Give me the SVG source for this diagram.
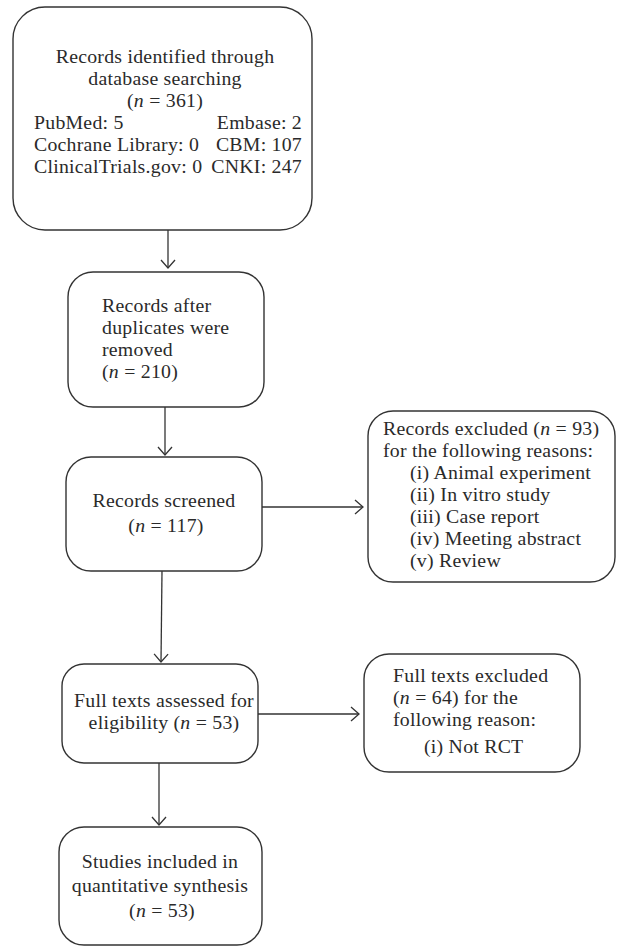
<svg xmlns="http://www.w3.org/2000/svg" width="617" height="947" viewBox="0 0 617 947">
<style>
.box{fill:#fff;stroke:#333;stroke-width:1.4}
.t{font-family:"Liberation Serif","Times New Roman",serif;font-size:19.8px;letter-spacing:0.25px;fill:#2a2a2a}
.c{text-anchor:middle}
.e{text-anchor:end}
.i{font-style:italic}
.con{stroke:#333;stroke-width:1.3;fill:none;marker-end:url(#arr)}
</style>
<defs>
<marker id="arr" markerUnits="userSpaceOnUse" markerWidth="10" markerHeight="16" viewBox="0 0 10 16" refX="9" refY="8" orient="auto">
<path d="M1,1 L9,8 L1,15" fill="none" stroke="#333" stroke-width="1.3"/>
</marker>
</defs>
<rect width="617" height="947" fill="#fff"/>
<g id="connectors">
<line class="con" x1="168" y1="230" x2="168" y2="268"/>
<line class="con" x1="165" y1="407" x2="165" y2="455"/>
<line class="con" x1="262" y1="507" x2="363" y2="507"/>
<line class="con" x1="162" y1="571" x2="161" y2="662"/>
<line class="con" x1="258" y1="714" x2="359" y2="714"/>
<line class="con" x1="159" y1="763" x2="159" y2="825"/>
</g>
<g id="identified">
<rect class="box" x="13" y="7" width="299" height="223" rx="32"/>
<text class="t c" x="165" y="63">Records identified through</text>
<text class="t c" x="165" y="85">database searching</text>
<text class="t c" x="165" y="107">(<tspan class="i">n</tspan> = 361)</text>
<text class="t" x="34" y="129">PubMed: 5</text>
<text class="t e" x="302" y="129">Embase: 2</text>
<text class="t" x="34" y="151">Cochrane Library: 0</text>
<text class="t e" x="302" y="151">CBM: 107</text>
<text class="t" x="34" y="173">ClinicalTrials.gov: 0</text>
<text class="t e" x="302" y="173">CNKI: 247</text>
</g>
<g id="duplicates">
<rect class="box" x="68" y="272" width="196" height="135" rx="25"/>
<text class="t" x="102" y="312">Records after</text>
<text class="t" x="102" y="334">duplicates were</text>
<text class="t" x="102" y="356">removed</text>
<text class="t" x="102" y="378">(<tspan class="i">n</tspan> = 210)</text>
</g>
<g id="screened">
<rect class="box" x="66" y="457" width="196" height="114" rx="25"/>
<text class="t c" x="164" y="507">Records screened</text>
<text class="t c" x="166" y="532">(<tspan class="i">n</tspan> = 117)</text>
</g>
<g id="excluded-records">
<rect class="box" x="368" y="411" width="247" height="171" rx="25"/>
<text class="t" x="383" y="435">Records excluded (<tspan class="i">n</tspan> = 93)</text>
<text class="t" x="383" y="457">for the following reasons:</text>
<text class="t" x="410" y="479">(i) Animal experiment</text>
<text class="t" x="410" y="501">(ii) In vitro study</text>
<text class="t" x="410" y="523">(iii) Case report</text>
<text class="t" x="410" y="545">(iv) Meeting abstract</text>
<text class="t" x="410" y="567">(v) Review</text>
</g>
<g id="fulltexts">
<rect class="box" x="62" y="664" width="196" height="99" rx="22"/>
<text class="t c" x="164" y="707">Full texts assessed for</text>
<text class="t c" x="164" y="729">eligibility (<tspan class="i">n</tspan> = 53)</text>
</g>
<g id="excluded-fulltexts">
<rect class="box" x="364" y="654" width="216" height="118" rx="25"/>
<text class="t" x="393" y="682">Full texts excluded</text>
<text class="t" x="393" y="704">(<tspan class="i">n</tspan> = 64) for the</text>
<text class="t" x="393" y="726">following reason:</text>
<text class="t" x="424" y="753">(i) Not RCT</text>
</g>
<g id="included">
<rect class="box" x="59" y="827" width="203" height="118" rx="25"/>
<text class="t c" x="160" y="868">Studies included in</text>
<text class="t c" x="160" y="892">quantitative synthesis</text>
<text class="t c" x="162" y="917">(<tspan class="i">n</tspan> = 53)</text>
</g>
</svg>
